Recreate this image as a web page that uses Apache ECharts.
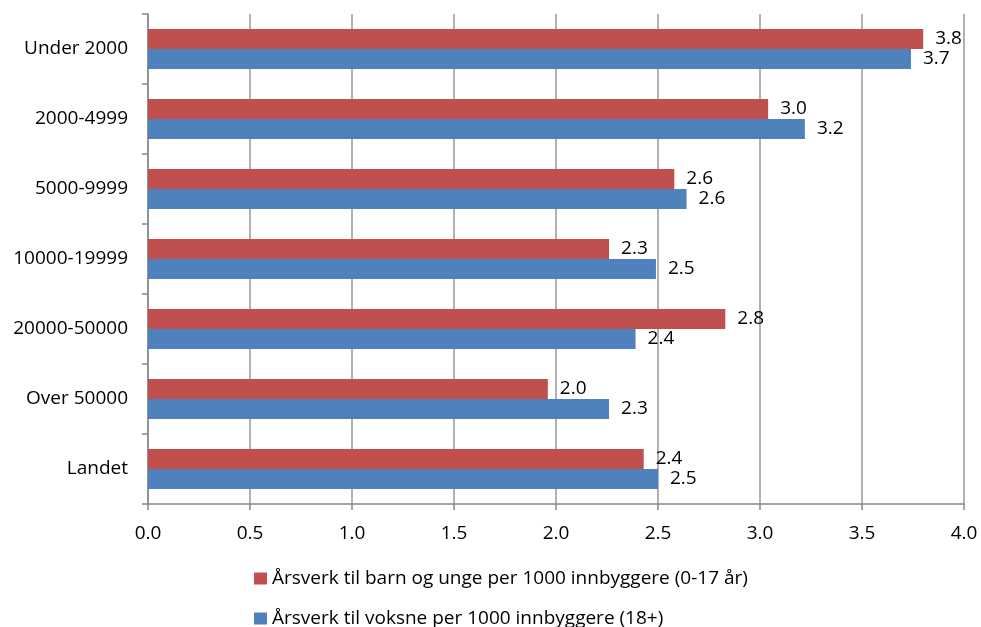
<!DOCTYPE html>
<html>
<head>
<meta charset="utf-8">
<script src="https://cdn.jsdelivr.net/npm/echarts@6/dist/echarts.min.js"></script>
<style>
  html, body { margin: 0; padding: 0; background: #fff; }
  #chart { width: 981px; height: 627px; }
</style>
</head>
<body>
<div id="chart"></div>
<script>
// Kommunestørrelse
const categories = ['Under 2000', '2000-4999', '5000-9999', '10000-19999', '20000-50000', 'Over 50000', 'Landet'];
// Årsverk per 1000 innbyggere
const barnUnge = [3.80, 3.04, 2.58, 2.26, 2.83, 1.96, 2.43];
const voksne = [3.74, 3.22, 2.64, 2.49, 2.39, 2.26, 2.50];
const xTicks = [0, 0.5, 1, 1.5, 2, 2.5, 3, 3.5, 4];
const seriesNames = [
  'Årsverk til barn og unge per 1000 innbyggere (0-17 år)',
  'Årsverk til voksne per 1000 innbyggere (18+)'
];

const FONT = '"Open Sans", "Noto Sans", sans-serif';
const FS = 19;
const chart = echarts.init(document.getElementById('chart'));

const labelStyle = {
  show: true,
  position: 'right',
  distance: 12,
  color: '#000',
  fontSize: FS,
  fontFamily: FONT,
  formatter: p => p.value.toFixed(1)
};

// one legend block per series, stacked under the plot
const legendRow = (name, top) => ({
  orient: 'vertical',
  left: 254,
  top: top,
  padding: 0,
  itemWidth: 13,
  itemHeight: 12,
  icon: 'rect',
  textStyle: { fontSize: FS, color: '#000', fontFamily: FONT },
  data: [name]
});

chart.setOption({
  animation: false,
  textStyle: { fontFamily: FONT },
  grid: { left: 148, right: 17, top: 14, bottom: 123, containLabel: false },
  legend: [legendRow(seriesNames[0], 569), legendRow(seriesNames[1], 609)],
  xAxis: {
    type: 'value',
    min: xTicks[0],
    max: xTicks[xTicks.length - 1],
    interval: 0.5,
    axisLine: { show: true, lineStyle: { color: '#888', width: 1.5 } },
    axisTick: { show: true, length: 6, lineStyle: { color: '#888', width: 1.5 } },
    axisLabel: { color: '#000', fontSize: FS, margin: 20, formatter: v => v.toFixed(1) },
    splitLine: { show: true, lineStyle: { color: '#999', width: 1.5 } }
  },
  yAxis: {
    type: 'category',
    data: categories,
    inverse: true,
    axisLine: { show: true, lineStyle: { color: '#888', width: 1.5 } },
    axisTick: { show: true, length: 6, lineStyle: { color: '#888', width: 1.5 } },
    axisLabel: { color: '#000', fontSize: FS, margin: 20 }
  },
  series: [
    {
      name: seriesNames[0],
      type: 'bar',
      data: barnUnge,
      barWidth: 20,
      barGap: '0%',
      itemStyle: { color: '#C0504D' },
      label: labelStyle
    },
    {
      name: seriesNames[1],
      type: 'bar',
      data: voksne,
      barWidth: 20,
      barGap: '0%',
      itemStyle: { color: '#4F81BD' },
      label: labelStyle
    }
  ]
});
</script>
</body>
</html>
